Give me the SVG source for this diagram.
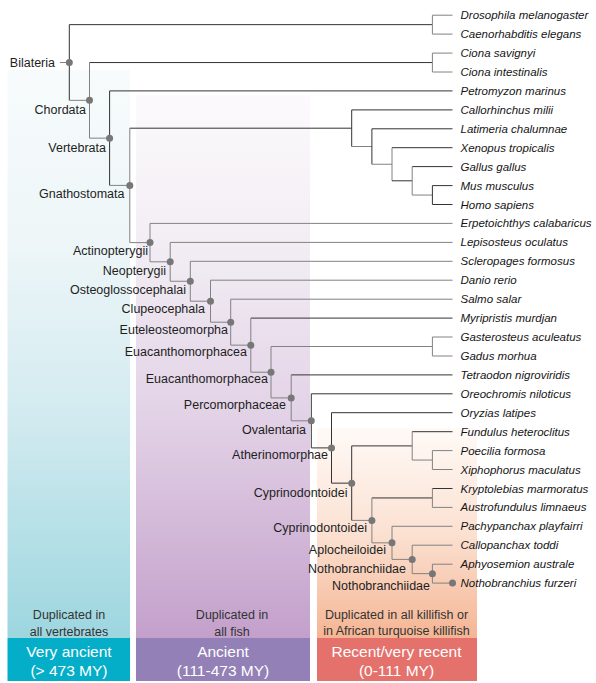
<svg xmlns="http://www.w3.org/2000/svg" width="596" height="683" viewBox="0 0 596 683">
<defs>
<linearGradient id="gBlue" x1="0" y1="0" x2="0" y2="1">
<stop offset="0" stop-color="#f7fbfc"/><stop offset="0.3" stop-color="#eef6f8"/><stop offset="0.6" stop-color="#d3ebf0"/><stop offset="1" stop-color="#9dd6df"/>
</linearGradient>
<linearGradient id="gPurple" x1="0" y1="0" x2="0" y2="1">
<stop offset="0" stop-color="#fcfafc"/><stop offset="0.3" stop-color="#f1ecf3"/><stop offset="0.6" stop-color="#e2d1e6"/><stop offset="1" stop-color="#c3a0cb"/>
</linearGradient>
<linearGradient id="gOrange" x1="0" y1="0" x2="0" y2="1">
<stop offset="0" stop-color="#fffaf7"/><stop offset="0.5" stop-color="#fbe1d2"/><stop offset="1" stop-color="#f5b594"/>
</linearGradient>
<style>
text{font-family:"Liberation Sans",Arial,Helvetica,sans-serif}
.lf{font-style:italic;font-size:11.5px;fill:#151515}
.in{font-size:12.5px;fill:#1e1e1e;text-anchor:end}
.dup{font-size:12.5px;fill:#333;text-anchor:middle}
.age{font-size:15.5px;fill:#fff;text-anchor:middle}
.d{stroke:#333;stroke-width:1;fill:none}
.g{stroke:#828282;stroke-width:1;fill:none}
.dot{fill:#777}
</style>
</defs>

<g id="panels">
<rect x="7.5" y="70" width="122.5" height="568" fill="url(#gBlue)"/>
<rect x="7.5" y="638" width="122.5" height="43" fill="#04aec8"/>
<rect x="136" y="95" width="174" height="543" fill="url(#gPurple)"/>
<rect x="136" y="638" width="174" height="43" fill="#9280b6"/>
<rect x="317" y="428" width="160" height="210" fill="url(#gOrange)"/>
<rect x="317" y="638" width="160" height="43" fill="#e4716b"/>
<text class="dup" x="69" y="619">Duplicated in</text>
<text class="dup" x="69" y="635.5">all vertebrates</text>
<text class="age" x="69" y="656.5">Very ancient</text>
<text class="age" x="69" y="675.5">(&gt; 473 MY)</text>
<text class="dup" x="232" y="619">Duplicated in</text>
<text class="dup" x="232" y="635.5">all fish</text>
<text class="age" x="223" y="656.5">Ancient</text>
<text class="age" x="223" y="675.5">(111-473 MY)</text>
<text class="dup" x="396.5" y="619">Duplicated in all killifish or</text>
<text class="dup" x="396.5" y="634.5">in African turquoise killifish</text>
<text class="age" x="396.5" y="656.5">Recent/very recent</text>
<text class="age" x="396.5" y="675.5">(0-111 MY)</text>
</g>

<g id="connectors">
<path class="g" d="M60 62.5H69.3"/>
<path class="d" d="M432.4 24.65H69.3V100.35"/>
<path class="g" d="M69.3 100.35H89.5"/>
<path class="g" d="M452.5 15.2H432.4V34.1H452.5"/>
<path class="d" d="M432.4 62.55H89.5"/>
<path class="g" d="M89.5 62.55V138.15H109.6"/>
<path class="g" d="M452.5 53.1H432.4V72H452.5"/>
<path class="d" d="M452.5 90.9H109.6V185.4"/>
<path class="g" d="M109.6 185.4H129.8"/>
<path class="d" d="M351.7 128.2H129.8"/>
<path class="g" d="M129.8 128.2V242.6H150"/>
<path class="d" d="M452.5 109.9H351.7V146.5"/>
<path class="g" d="M351.7 146.5H371.9"/>
<path class="d" d="M452.5 128.8H371.9V164.25"/>
<path class="g" d="M371.9 164.25H392"/>
<path class="d" d="M452.5 147.7H392"/>
<path class="g" d="M392 147.7V180.8"/>
<path class="d" d="M392 180.8H412.2"/>
<path class="d" d="M452.5 166.6H412.2"/>
<path class="g" d="M412.2 166.6V195.05H432.4"/>
<path class="d" d="M452.5 185.6H432.4V204.5H452.5"/>
<path class="g" d="M452.5 223.4H150V261.8H170.2"/>
<path class="g" d="M452.5 242.4H170.2V281.25H190.3"/>
<path class="g" d="M452.5 261.3H190.3V301.2H210.5"/>
<path class="g" d="M452.5 280.2H210.5V322.2H230.7"/>
<path class="g" d="M452.5 299.2H230.7V345.15H250.8"/>
<path class="d" d="M452.5 318.1H250.8"/>
<path class="g" d="M250.8 318.1V372.2H271"/>
<path class="g" d="M432.4 346.5H271V397.9H291.2"/>
<path class="g" d="M452.5 337H432.4V356H452.5"/>
<path class="d" d="M452.5 374.9H291.2"/>
<path class="g" d="M291.2 374.9V420.85H311.3"/>
<path class="d" d="M452.5 393.8H311.3V447.9H331.5"/>
<path class="d" d="M452.5 412.7H331.5V483.15H351.7"/>
<path class="d" d="M412.2 445.9H351.7V520.4"/>
<path class="g" d="M351.7 520.4H371.9"/>
<path class="d" d="M452.5 431.7H412.2"/>
<path class="g" d="M412.2 431.7V460.05H432.4"/>
<path class="g" d="M452.5 450.6H432.4V469.5H452.5"/>
<path class="d" d="M432.4 497.95H371.9"/>
<path class="g" d="M371.9 497.95V542.85H392"/>
<path class="d" d="M452.5 488.5H432.4"/>
<path class="g" d="M432.4 488.5V507.4H452.5"/>
<path class="g" d="M452.5 526.3H392V559.4H412.2"/>
<path class="g" d="M452.5 545.2H412.2V573.65H432.4"/>
<path class="g" d="M452.5 564.2H432.4V583.1H452.5"/>
</g>

<g id="nodes">
<g id="n-bilateria"><circle class="dot" cx="69.3" cy="62.5" r="3.5"/><text class="in" x="55" y="67">Bilateria</text></g>
<g id="n-chordata"><circle class="dot" cx="89.5" cy="100.35" r="3.5"/><text class="in" x="86" y="113.5">Chordata</text></g>
<g id="n-vertebrata"><circle class="dot" cx="109.6" cy="138.15" r="3.5"/><text class="in" x="106" y="152">Vertebrata</text></g>
<g id="n-gnathostomata"><circle class="dot" cx="129.8" cy="185.4" r="3.5"/><text class="in" x="124.5" y="198">Gnathostomata</text></g>
<g id="n-actinopterygii"><circle class="dot" cx="150" cy="242.6" r="3.5"/><text class="in" x="148" y="255">Actinopterygii</text></g>
<g id="n-neopterygii"><circle class="dot" cx="170.2" cy="261.8" r="3.5"/><text class="in" x="166" y="275">Neopterygii</text></g>
<g id="n-osteoglossocephalai"><circle class="dot" cx="190.3" cy="281.25" r="3.5"/><text class="in" x="186" y="294">Osteoglossocephalai</text></g>
<g id="n-clupeocephala"><circle class="dot" cx="210.5" cy="301.2" r="3.5"/><text class="in" x="205" y="313">Clupeocephala</text></g>
<g id="n-euteleosteomorpha"><circle class="dot" cx="230.7" cy="322.2" r="3.5"/><text class="in" x="228" y="334">Euteleosteomorpha</text></g>
<g id="n-euacanthomorphacea1"><circle class="dot" cx="250.8" cy="345.15" r="3.5"/><text class="in" x="247" y="356">Euacanthomorphacea</text></g>
<g id="n-euacanthomorphacea2"><circle class="dot" cx="271" cy="372.2" r="3.5"/><text class="in" x="268" y="383">Euacanthomorphacea</text></g>
<g id="n-percomorphaceae"><circle class="dot" cx="291.2" cy="397.9" r="3.5"/><text class="in" x="286" y="409">Percomorphaceae</text></g>
<g id="n-ovalentaria"><circle class="dot" cx="311.3" cy="420.85" r="3.5"/><text class="in" x="306" y="434">Ovalentaria</text></g>
<g id="n-atherinomorphae"><circle class="dot" cx="331.5" cy="447.9" r="3.5"/><text class="in" x="328" y="459">Atherinomorphae</text></g>
<g id="n-cyprinodontoidei1"><circle class="dot" cx="351.7" cy="483.15" r="3.5"/><text class="in" x="347.5" y="496.5">Cyprinodontoidei</text></g>
<g id="n-cyprinodontoidei2"><circle class="dot" cx="371.9" cy="520.4" r="3.5"/><text class="in" x="367" y="532">Cyprinodontoidei</text></g>
<g id="n-aplocheiloidei"><circle class="dot" cx="392" cy="542.85" r="3.5"/><text class="in" x="386" y="554">Aplocheiloidei</text></g>
<g id="n-nothobranchiidae1"><circle class="dot" cx="412.2" cy="559.4" r="3.5"/><text class="in" x="406" y="573">Nothobranchiidae</text></g>
<g id="n-nothobranchiidae2"><circle class="dot" cx="432.4" cy="573.65" r="3.5"/><text class="in" x="430" y="589.5">Nothobranchiidae</text></g>

<g id="leaf-drosophila"><text class="lf" x="460.5" y="19.2">Drosophila melanogaster</text></g>
<g id="leaf-caenorhabditis"><text class="lf" x="460.5" y="38.1">Caenorhabditis elegans</text></g>
<g id="leaf-ciona-savignyi"><text class="lf" x="460.5" y="57.1">Ciona savignyi</text></g>
<g id="leaf-ciona-intestinalis"><text class="lf" x="460.5" y="76">Ciona intestinalis</text></g>
<g id="leaf-petromyzon"><text class="lf" x="460.5" y="94.9">Petromyzon marinus</text></g>
<g id="leaf-callorhinchus"><text class="lf" x="460.5" y="113.9">Callorhinchus milii</text></g>
<g id="leaf-latimeria"><text class="lf" x="460.5" y="132.8">Latimeria chalumnae</text></g>
<g id="leaf-xenopus"><text class="lf" x="460.5" y="151.7">Xenopus tropicalis</text></g>
<g id="leaf-gallus"><text class="lf" x="460.5" y="170.6">Gallus gallus</text></g>
<g id="leaf-mus"><text class="lf" x="460.5" y="189.6">Mus musculus</text></g>
<g id="leaf-homo"><text class="lf" x="460.5" y="208.5">Homo sapiens</text></g>
<g id="leaf-erpetoichthys"><text class="lf" x="460.5" y="227.4">Erpetoichthys calabaricus</text></g>
<g id="leaf-lepisosteus"><text class="lf" x="460.5" y="246.4">Lepisosteus oculatus</text></g>
<g id="leaf-scleropages"><text class="lf" x="460.5" y="265.3">Scleropages formosus</text></g>
<g id="leaf-danio"><text class="lf" x="460.5" y="284.2">Danio rerio</text></g>
<g id="leaf-salmo"><text class="lf" x="460.5" y="303.2">Salmo salar</text></g>
<g id="leaf-myripristis"><text class="lf" x="460.5" y="322.1">Myripristis murdjan</text></g>
<g id="leaf-gasterosteus"><text class="lf" x="460.5" y="341">Gasterosteus aculeatus</text></g>
<g id="leaf-gadus"><text class="lf" x="460.5" y="360">Gadus morhua</text></g>
<g id="leaf-tetraodon"><text class="lf" x="460.5" y="378.9">Tetraodon nigroviridis</text></g>
<g id="leaf-oreochromis"><text class="lf" x="460.5" y="397.8">Oreochromis niloticus</text></g>
<g id="leaf-oryzias"><text class="lf" x="460.5" y="416.7">Oryzias latipes</text></g>
<g id="leaf-fundulus"><text class="lf" x="460.5" y="435.7">Fundulus heteroclitus</text></g>
<g id="leaf-poecilia"><text class="lf" x="460.5" y="454.6">Poecilia formosa</text></g>
<g id="leaf-xiphophorus"><text class="lf" x="460.5" y="473.5">Xiphophorus maculatus</text></g>
<g id="leaf-kryptolebias"><text class="lf" x="460.5" y="492.5">Kryptolebias marmoratus</text></g>
<g id="leaf-austrofundulus"><text class="lf" x="460.5" y="511.4">Austrofundulus limnaeus</text></g>
<g id="leaf-pachypanchax"><text class="lf" x="460.5" y="530.3">Pachypanchax playfairri</text></g>
<g id="leaf-callopanchax"><text class="lf" x="460.5" y="549.2">Callopanchax toddi</text></g>
<g id="leaf-aphyosemion"><text class="lf" x="460.5" y="568.2">Aphyosemion australe</text></g>
<g id="leaf-nothobranchius"><circle class="dot" cx="452.5" cy="583.1" r="3.5"/><text class="lf" x="460.5" y="587.1">Nothobranchius furzeri</text></g>
</g>
</svg>
